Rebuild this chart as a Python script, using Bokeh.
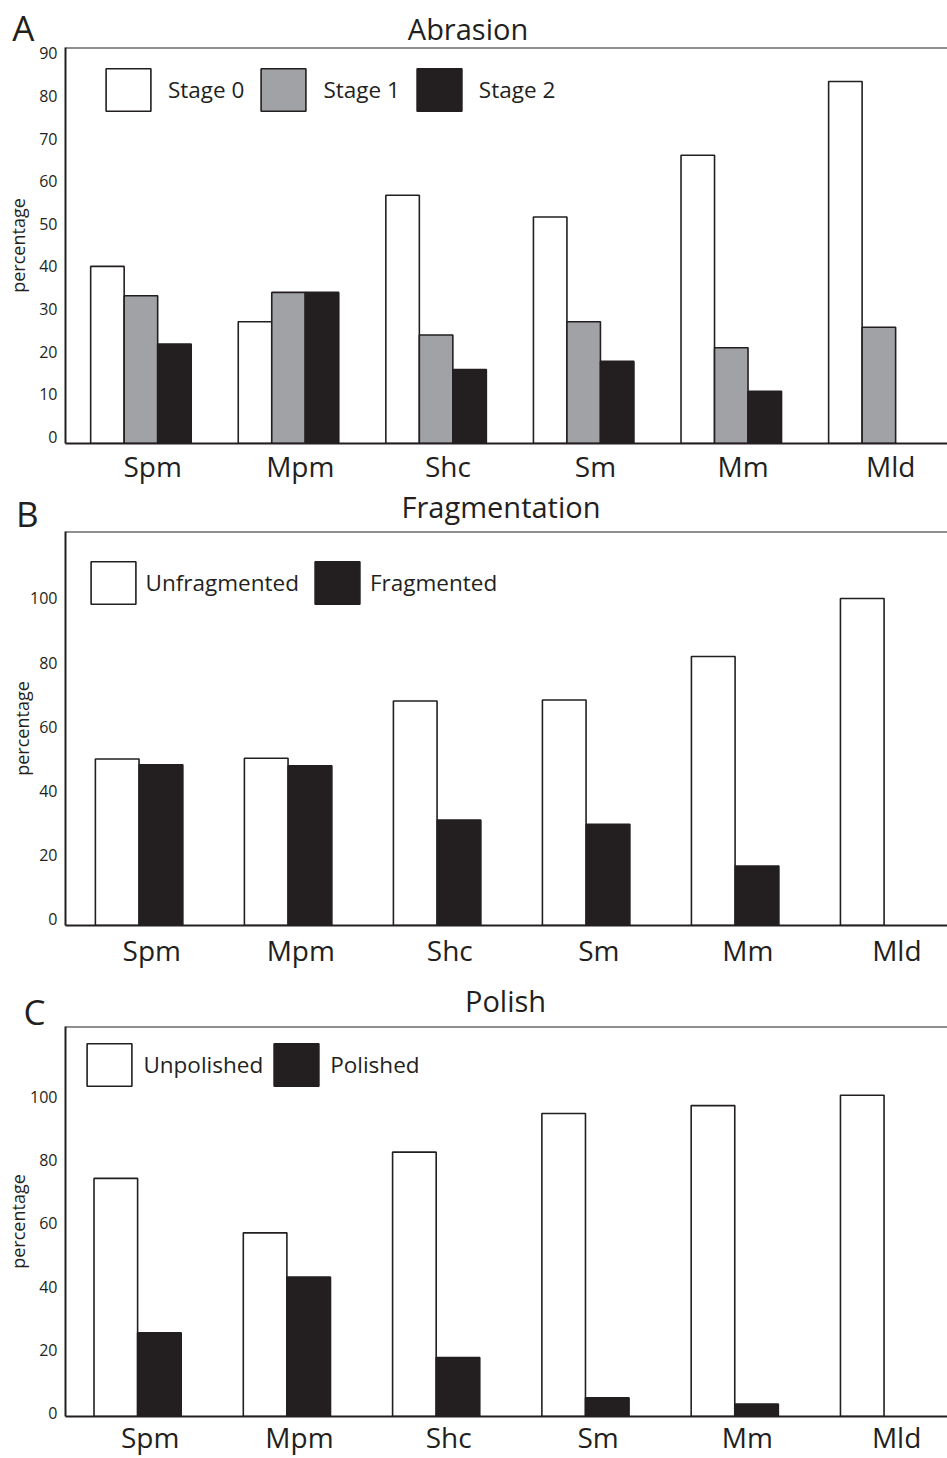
import numpy as np
from bokeh.plotting import figure
from bokeh.models import (ColumnDataSource, Range1d, FixedTicker, Legend,
                          LegendItem, Span)
from bokeh.core.properties import value
from bokeh.layouts import column
from bokeh.embed import file_html
from bokeh.resources import INLINE

# ---------------- data ----------------
CATEGORIES = ["Spm", "Mpm", "Shc", "Sm", "Mm", "Mld"]

ABRASION_LABELS = ["Stage 0", "Stage 1", "Stage 2"]
ABRASION_STAGE0 = [40.0, 27.0, 56.7, 51.6, 66.1, 83.4]
ABRASION_STAGE1 = [33.1, 33.9, 23.9, 27.0, 20.9, 25.7]
ABRASION_STAGE2 = [21.8, 33.9, 15.8, 17.7, 10.7, 0.0]
ABRASION_TICKS = [0, 10, 20, 30, 40, 50, 60, 70, 80, 90]

FRAG_LABELS = ["Unfragmented", "Fragmented"]
FRAG_UNFRAGMENTED = [49.9, 50.1, 68.0, 68.3, 81.9, 100.0]
FRAG_FRAGMENTED = [48.1, 47.8, 30.8, 29.5, 16.5, 0.0]
FRAG_TICKS = [0, 20, 40, 60, 80, 100]

POLISH_LABELS = ["Unpolished", "Polished"]
POLISH_UNPOLISHED = [74.2, 57.0, 82.5, 94.7, 97.2, 100.5]
POLISH_POLISHED = [25.4, 43.0, 17.6, 4.9, 2.9, 0.0]
POLISH_TICKS = [0, 20, 40, 60, 80, 100]

# ---------------- styles ----------------
INK = "#231f20"
WHITE = "#ffffff"
GREY = "#a1a2a5"
FONT = "Open Sans"
FIG_W = 947
LEFT = 65


def make_header(height, letter, letter_y, letter_standoff, title, title_xy):
    h = figure(width=FIG_W, height=height, output_backend="svg",
               toolbar_location=None, x_range=Range1d(LEFT, FIG_W),
               y_range=Range1d(0, height), x_axis_location=None,
               min_border_left=LEFT, min_border_right=0,
               min_border_top=0, min_border_bottom=0)
    h.outline_line_color = None
    h.grid.visible = False
    h.background_fill_color = WHITE
    h.border_fill_color = WHITE
    # panel letter, carried by the header's (otherwise invisible) left axis
    ya = h.yaxis[0]
    ya.ticker = FixedTicker(ticks=[letter_y])
    ya.major_label_overrides = {letter_y: letter}
    ya.major_label_text_font = FONT
    ya.major_label_text_font_size = "35px"
    ya.major_label_text_color = INK
    ya.major_label_standoff = letter_standoff
    ya.major_tick_in = 0
    ya.major_tick_out = 0
    ya.minor_tick_in = 0
    ya.minor_tick_out = 0
    ya.axis_line_color = None
    # panel title
    h.text(x=[title_xy[0]], y=[title_xy[1]], text=[title],
           text_font=value(FONT), text_font_size=value("29px"),
           text_color=INK, text_align="center", text_baseline="alphabetic")
    return h


def make_panel(labels, series, fills, ticks, ylim, xlim, bar_w, offsets,
               height, b_top, b_bottom, legend_loc, standoff, spacing,
               ylab_standoff, xlab_standoff):
    p = figure(width=FIG_W, height=height, output_backend="svg",
               toolbar_location=None, x_range=Range1d(*xlim),
               y_range=Range1d(*ylim),
               min_border_left=LEFT, min_border_right=0,
               min_border_top=b_top, min_border_bottom=b_bottom)
    p.outline_line_color = None
    p.xgrid.visible = False
    p.ygrid.visible = False
    p.background_fill_color = WHITE
    p.border_fill_color = WHITE

    ybase = ylim[0]
    items = []
    for lab, vals, fc, off in zip(labels, series, fills, offsets):
        xs = [i + off for i, v in enumerate(vals) if v > 0]
        tops = [v for v in vals if v > 0]
        src = ColumnDataSource(dict(x=xs, top=tops))
        r = p.vbar(x="x", top="top", bottom=ybase, width=bar_w, source=src,
                   fill_color=fc, line_color=INK, line_width=1.6)
        items.append(LegendItem(label=lab, renderers=[r]))

    leg = Legend(items=items, orientation="horizontal", location=legend_loc,
                 glyph_width=56, glyph_height=53, label_standoff=standoff,
                 spacing=spacing, padding=0, margin=0,
                 border_line_color=None, background_fill_alpha=0,
                 label_text_font=FONT, label_text_font_size="22.5px",
                 label_text_color=INK)
    p.add_layout(leg)

    # x axis
    xa = p.xaxis[0]
    xa.ticker = FixedTicker(ticks=list(range(len(CATEGORIES))))
    xa.major_label_overrides = {i: c for i, c in enumerate(CATEGORIES)}
    xa.major_label_text_font = FONT
    xa.major_label_text_font_size = "28px"
    xa.major_label_text_color = INK
    xa.major_label_standoff = xlab_standoff
    xa.major_tick_in = 0
    xa.major_tick_out = 0
    xa.minor_tick_in = 0
    xa.minor_tick_out = 0
    xa.axis_line_color = INK
    xa.axis_line_width = 2

    # y axis
    ya = p.yaxis[0]
    ya.ticker = FixedTicker(ticks=ticks)
    ya.major_label_text_font = FONT
    ya.major_label_text_font_size = "16px"
    ya.major_label_text_color = INK
    ya.major_label_standoff = 8
    ya.major_tick_in = 0
    ya.major_tick_out = 0
    ya.minor_tick_in = 0
    ya.minor_tick_out = 0
    ya.axis_line_color = INK
    ya.axis_line_width = 2
    ya.axis_label = "percentage"
    ya.axis_label_text_font = FONT
    ya.axis_label_text_font_size = "18px"
    ya.axis_label_text_font_style = "normal"
    ya.axis_label_text_color = INK
    ya.axis_label_standoff = ylab_standoff

    # top border line
    p.add_layout(Span(location=ylim[1], dimension="width",
                      line_color=INK, line_width=2))
    return p


hA = make_header(45, "A", 24.5, 31, "Abrasion", (467.5, 17))
pA = make_panel(
    ABRASION_LABELS, [ABRASION_STAGE0, ABRASION_STAGE1, ABRASION_STAGE2],
    [WHITE, GREY, INK], ABRASION_TICKS,
    ylim=(-1.58, 91.4), xlim=(-0.591, 5.385), bar_w=0.227,
    offsets=[-0.307, -0.080, 0.147], height=443, b_top=2, b_bottom=45,
    legend_loc=(35, 326.6), standoff=12, spacing=11,
    ylab_standoff=6, xlab_standoff=3)

hB = make_header(40, "B", 17.5, 27, "Fragmentation", (500.5, 21.6))
pB = make_panel(
    FRAG_LABELS, [FRAG_UNFRAGMENTED, FRAG_FRAGMENTED], [WHITE, INK],
    FRAG_TICKS, ylim=(-2.09, 120.9), xlim=(-0.579, 5.340), bar_w=0.293,
    offsets=[-0.232, 0.062], height=452, b_top=3, b_bottom=55,
    legend_loc=(19.6, 316.3), standoff=5, spacing=10,
    ylab_standoff=-7, xlab_standoff=5)

hC = make_header(45, "C", 29, 20, "Polish", (505, 24.6))
pC = make_panel(
    POLISH_LABELS, [POLISH_UNPOLISHED, POLISH_POLISHED], [WHITE, INK],
    POLISH_TICKS, ylim=(-1.03, 122.2), xlim=(-0.567, 5.341), bar_w=0.292,
    offsets=[-0.230, 0.062], height=433, b_top=1, b_bottom=37,
    legend_loc=(16.4, 325), standoff=6, spacing=5,
    ylab_standoff=-3, xlab_standoff=1)

layout = column(hA, pA, hB, pB, hC, pC, spacing=0)
open("out.html", "w").write(file_html(layout, INLINE))
